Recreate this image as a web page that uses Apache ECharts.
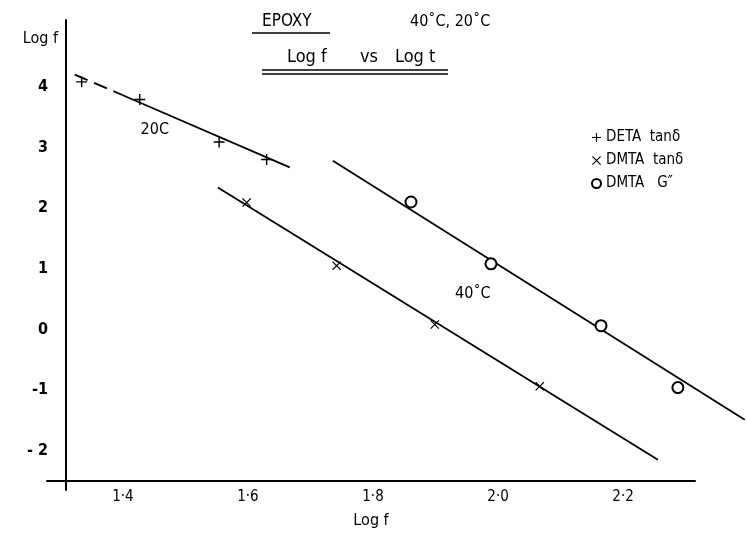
<!DOCTYPE html>
<html><head><meta charset="utf-8">
<script src="https://cdn.jsdelivr.net/npm/echarts@6/dist/echarts.min.js"></script>
<style>html,body{margin:0;padding:0;background:#fff}#c{width:747px;height:534px}</style>
</head><body><div id="c"></div>
<script>
// ---- data ----
const xTickValues = [1.4, 1.6, 1.8, 2.0, 2.2];
const xTickLabels = ['1·4', '1·6', '1·8', '2·0', '2·2'];
const yTickValues = [4, 3, 2, 1, 0, -1, -2];
const yTickLabels = ['4', '3', '2', '1', '0', '-1', '- 2'];

const detaX = [1.334, 1.427, 1.554, 1.630];
const detaY = [4.08, 3.79, 3.09, 2.80];
const dmtaTanX = [1.598, 1.742, 1.899, 2.067];
const dmtaTanY = [2.09, 1.05, 0.08, -0.94];
const dmtaGX = [1.861, 1.989, 2.165, 2.288];
const dmtaGY = [2.10, 1.08, 0.06, -0.96];

const fit20DashX = [1.323, 1.400];
const fit20DashY = [4.20, 3.86];
const fit20X = [1.400, 1.667];
const fit20Y = [3.86, 2.67];
const fitTanX = [1.552, 2.256];
const fitTanY = [2.34, -2.15];
const fitGX = [1.736, 2.395];
const fitGY = [2.78, -1.49];

const noteX = [1.451, 1.960];
const noteY = [3.29, 0.58];
const noteText = ['20C', '40˚C'];

const seriesNames = ['DETA  tanδ', 'DMTA  tanδ', 'DMTA   G\u2033'];

// ---- helpers ----
const zip = (xs, ys) => xs.map((x, i) => [x, ys[i]]);
const FONT = "'DejaVu Sans Condensed','Liberation Sans Narrow','Noto Sans',sans-serif";
const INK = '#000';
const plusPath = 'path://M4.35,0H5.65V10H4.35Z M0,4.35H10V5.65H0Z';
const crossPath = 'path://M0,0.9L0.9,0L10,9.1L9.1,10Z M9.1,0L10,0.9L0.9,10L0,9.1Z';
const pick = (vals, labels) => v => { const i = vals.findIndex(t => Math.abs(t - v) < 1e-6); return i >= 0 ? labels[i] : ''; };

function fitLine(xs, ys, dashed) {
  return {
    type: 'line', xAxisIndex: 0, yAxisIndex: 0, data: zip(xs, ys), symbol: 'none', silent: true,
    lineStyle: { color: INK, width: 1.8, opacity: 1, type: dashed ? [14, 7] : 'solid' }, z: 2
  };
}

const chart = echarts.init(document.getElementById('c'), null, { renderer: 'canvas' });
chart.setOption({
  animation: false,
  backgroundColor: '#fff',
  textStyle: { fontFamily: FONT, color: INK },
  grid: [
    { left: 66, right: 0, top: 20, bottom: 53 },   // data grid (hidden axes)
    { left: 47, right: 52, top: 20, bottom: 44 }   // drawn axes (overhanging lines)
  ],
  xAxis: [
    { gridIndex: 0, type: 'value', min: 1.309, max: 2.3986, show: false },
    {
      gridIndex: 1, type: 'value', min: 1.2786, max: 2.315, offset: -9,
      name: 'Log f', nameLocation: 'middle', nameGap: 32,
      nameTextStyle: { fontSize: 16, color: INK, fontFamily: FONT },
      axisLine: { show: true, onZero: false, lineStyle: { color: INK, width: 2 } },
      axisTick: { show: false }, splitLine: { show: false },
      axisLabel: { customValues: xTickValues, fontSize: 15, color: INK, margin: 9, formatter: pick(xTickValues, xTickLabels) }
    }
  ],
  yAxis: [
    { gridIndex: 0, type: 'value', min: -2.5, max: 5.1, show: false },
    {
      gridIndex: 1, type: 'value', min: -2.648, max: 5.1, offset: -19,
      name: 'Log f', nameLocation: 'end', nameGap: -19,
      nameTextStyle: { fontSize: 16, color: INK, fontFamily: FONT, align: 'right', verticalAlign: 'middle', padding: [0, 8, 0, 0] },
      axisLine: { show: true, onZero: false, lineStyle: { color: INK, width: 2 } },
      axisTick: { show: false }, splitLine: { show: false },
      axisLabel: { customValues: yTickValues, fontSize: 16, fontWeight: 'bold', color: INK, margin: 18, formatter: pick(yTickValues, yTickLabels) }
    }
  ],
  legend: {
    orient: 'vertical', left: 586, top: 125, itemGap: 8, itemWidth: 9, itemHeight: 9,
    textStyle: { fontSize: 15, color: INK, fontFamily: FONT },
    data: [
      { name: seriesNames[0], icon: plusPath, itemStyle: { color: INK, opacity: 1 } },
      { name: seriesNames[1], icon: crossPath, itemStyle: { color: INK, opacity: 1 } },
      { name: seriesNames[2], icon: 'emptyCircle', itemStyle: { color: INK, borderColor: INK, borderWidth: 1.5, opacity: 1 } }
    ]
  },
  graphic: [
    { type: 'text', left: 262, top: 13, style: { text: 'EPOXY', fontSize: 17, fontFamily: FONT, fill: INK } },
    { type: 'line', shape: { x1: 252, y1: 33, x2: 330, y2: 33 }, style: { stroke: INK, lineWidth: 1.5 } },
    { type: 'text', left: 410, top: 14, style: { text: '40˚C, 20˚C', fontSize: 16, fontFamily: FONT, fill: INK } },
    { type: 'text', left: 287, top: 48, style: { text: 'Log f', fontSize: 18, fontFamily: FONT, fill: INK } },
    { type: 'text', left: 360, top: 48, style: { text: 'vs', fontSize: 18, fontFamily: FONT, fill: INK } },
    { type: 'text', left: 395, top: 48, style: { text: 'Log t', fontSize: 18, fontFamily: FONT, fill: INK } },
    { type: 'line', shape: { x1: 262, y1: 70, x2: 448, y2: 70 }, style: { stroke: INK, lineWidth: 1.5 } },
    { type: 'line', shape: { x1: 262, y1: 74, x2: 448, y2: 74 }, style: { stroke: INK, lineWidth: 1.5 } }
  ],
  series: [
    fitLine(fit20DashX, fit20DashY, true),
    fitLine(fit20X, fit20Y, false),
    fitLine(fitTanX, fitTanY, false),
    fitLine(fitGX, fitGY, false),
    {
      name: seriesNames[0], type: 'scatter', xAxisIndex: 0, yAxisIndex: 0, data: zip(detaX, detaY),
      symbol: plusPath, symbolSize: 11, itemStyle: { color: INK, opacity: 1 }, z: 3
    },
    {
      name: seriesNames[1], type: 'scatter', xAxisIndex: 0, yAxisIndex: 0, data: zip(dmtaTanX, dmtaTanY),
      symbol: crossPath, symbolSize: 9, itemStyle: { color: INK, opacity: 1 }, z: 3
    },
    {
      name: seriesNames[2], type: 'scatter', xAxisIndex: 0, yAxisIndex: 0, data: zip(dmtaGX, dmtaGY),
      symbol: 'emptyCircle', symbolSize: 11, itemStyle: { color: INK, borderWidth: 1.5, opacity: 1 }, z: 3
    },
    {
      type: 'scatter', xAxisIndex: 0, yAxisIndex: 0, silent: true, symbolSize: 0, z: 4,
      itemStyle: { opacity: 1 },
      data: noteX.map((x, i) => ({ value: [x, noteY[i]], label: { show: true, formatter: noteText[i] } })),
      label: { show: true, position: 'inside', fontSize: 16, color: INK, opacity: 1, fontFamily: FONT }
    }
  ]
});
</script></body></html>
